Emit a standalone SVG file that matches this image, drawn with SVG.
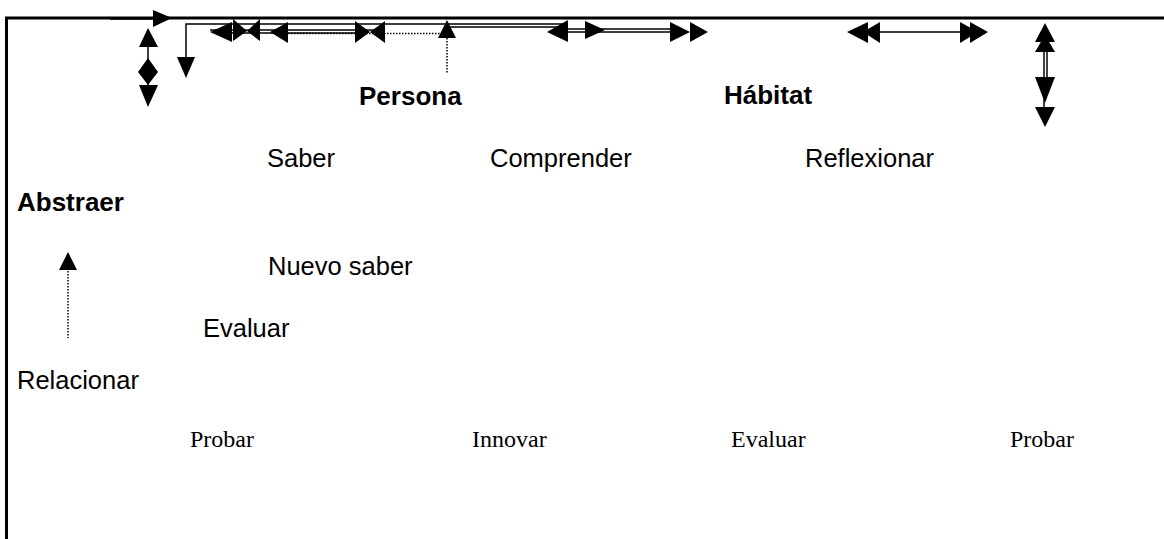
<svg xmlns="http://www.w3.org/2000/svg" width="1164" height="539" viewBox="0 0 1164 539">
<style>
.s{font-family:"Liberation Sans",Arial,sans-serif;font-size:25.5px;fill:#000}
.b{font-weight:bold;font-size:26px}
.t{font-family:"Liberation Serif","Times New Roman",serif;font-size:24px;fill:#000}
.ln{stroke:#000;stroke-width:1.5;fill:none}
.dl{stroke:#000;stroke-width:1.5;fill:none;stroke-dasharray:1.5 1.5}
.h{fill:#000;stroke:none}
</style>
<rect width="1164" height="539" fill="#fff"/>
<g id="frame">
<line x1="5" y1="18" x2="1164" y2="18" stroke="#000" stroke-width="3"/>
<line x1="6.5" y1="17" x2="6.5" y2="539" stroke="#000" stroke-width="3"/>
</g>
<g id="connectors">
<line class="ln" x1="110" y1="19" x2="155" y2="19"/>
<polygon class="h" points="153,10 172,18 153,27"/>
<line class="ln" x1="148" y1="40" x2="148" y2="95"/>
<polygon class="h" points="148,28 158,47 139,47"/>
<polygon class="h" points="148,58 158,72 148,85 138,72"/>
<polygon class="h" points="139,85 158,85 148,107"/>
<polyline class="ln" points="186,60 186,24 565,24"/>
<polygon class="h" points="177,57 195,57 186,78"/>
<line class="ln" x1="210" y1="30" x2="385" y2="30"/>
<line class="ln" x1="232" y1="33" x2="360" y2="33"/>
<polygon class="h" points="210,32 232,22 232,42"/>
<polygon class="h" points="233,19 247,31 233,41"/>
<polygon class="h" points="260,19 247,31 260,41"/>
<polygon class="h" points="270,32 288,22 288,43"/>
<polygon class="h" points="355,21 370,32 355,43"/>
<polygon class="h" points="385,21 370,32 385,43"/>
<line class="dl" x1="288" y1="33.5" x2="440" y2="33.5"/>
<line class="dl" x1="447" y1="38" x2="447" y2="73"/>
<polygon class="h" points="447,20 456,38 438,38"/>
<line class="ln" x1="447" y1="27" x2="565" y2="27"/>
<polygon class="h" points="547,32 568,20 568,42"/>
<line class="ln" x1="568" y1="29" x2="673" y2="29"/>
<line class="ln" x1="568" y1="32" x2="673" y2="32"/>
<polygon class="h" points="585,21 605,30 585,39"/>
<polygon class="h" points="670,22 690,32 670,42"/>
<polygon class="h" points="690,22 708,32 690,42"/>
<polygon class="h" points="847,32 868,22 868,43"/>
<polygon class="h" points="863,32 880,22 880,43"/>
<line class="ln" x1="880" y1="32" x2="960" y2="32"/>
<polygon class="h" points="960,22 978,32 960,43"/>
<polygon class="h" points="970,22 988,32 970,43"/>
<line class="ln" x1="1044" y1="42" x2="1044" y2="108"/>
<line class="ln" x1="1047" y1="42" x2="1047" y2="78"/>
<polygon class="h" points="1045,23 1055,42 1035,42"/>
<polygon class="h" points="1045,35 1055,52 1035,52"/>
<polygon class="h" points="1035,77 1055,77 1045,103"/>
<polygon class="h" points="1035,107 1055,107 1045,127"/>
<line class="dl" x1="68" y1="268" x2="68" y2="338"/>
<polygon class="h" points="68,252 77,270 59,270"/>
</g>
<g id="persona"><text class="s b" x="359" y="105">Persona</text></g>
<g id="habitat"><text class="s b" x="724" y="104">Hábitat</text></g>
<g id="saber"><text class="s" x="267" y="167">Saber</text></g>
<g id="comprender"><text class="s" x="490" y="167">Comprender</text></g>
<g id="reflexionar"><text class="s" x="805" y="167">Reflexionar</text></g>
<g id="abstraer"><text class="s b" x="17" y="211">Abstraer</text></g>
<g id="nuevo-saber"><text class="s" x="268" y="275">Nuevo saber</text></g>
<g id="evaluar1"><text class="s" x="203" y="337">Evaluar</text></g>
<g id="relacionar"><text class="s" x="17" y="389">Relacionar</text></g>
<g id="probar1"><text class="t" x="190" y="447">Probar</text></g>
<g id="innovar"><text class="t" x="472" y="447">Innovar</text></g>
<g id="evaluar2"><text class="t" x="731" y="447">Evaluar</text></g>
<g id="probar2"><text class="t" x="1010" y="447">Probar</text></g>
</svg>
